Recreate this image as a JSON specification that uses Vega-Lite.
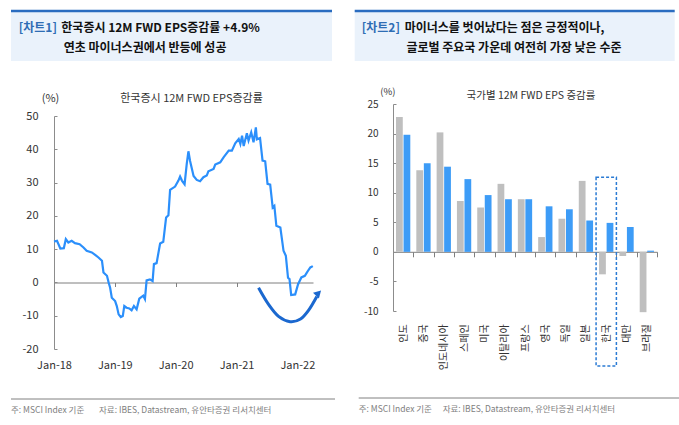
{
  "$schema": "https://vega.github.io/schema/vega-lite/v6.json",
  "background": "white",
  "padding": {"left": 9, "top": 9, "right": 0, "bottom": 0},
  "config": {"font": "Noto Sans CJK KR", "view": {"stroke": null}},
  "spacing": 17,
  "hconcat": [
    {
      "spacing": 31,
      "vconcat": [
        {
          "width": 259, "height": 50,
          "data": {"values": [{"tag": "[차트1]", "line1": "한국증시 12M FWD EPS증감률  +4.9%", "line2": "연초 마이너스권에서 반등에 성공"}]},
          "layer": [
            {"mark": {"type": "rect", "color": "#eaf2fb"},
             "encoding": {"x": {"datum": -43, "type": "quantitative", "scale": {"domain": [0, 259], "nice": false, "zero": false}, "axis": null},
                          "x2": {"datum": 278},
                          "y": {"datum": 0, "type": "quantitative", "scale": {"domain": [0, 50], "reverse": true, "nice": false, "zero": false}, "axis": null},
                          "y2": {"datum": 50}}},
            {"mark": {"type": "rule", "color": "#2a6cc0", "strokeWidth": 2.5},
             "encoding": {"x": {"datum": -43, "type": "quantitative"}, "x2": {"datum": 278}, "y": {"datum": 0, "type": "quantitative"}}},
            {"mark": {"type": "text", "align": "left", "baseline": "middle", "fontSize": 12, "fontWeight": "bold", "color": "#2e6db4"},
             "encoding": {"text": {"field": "tag"}, "x": {"datum": -35.3, "type": "quantitative"}, "y": {"datum": 16.5, "type": "quantitative"}}},
            {"mark": {"type": "text", "align": "left", "baseline": "middle", "fontSize": 12, "fontWeight": "bold", "color": "#111"},
             "encoding": {"text": {"field": "line1"}, "x": {"datum": 7.3, "type": "quantitative"}, "y": {"datum": 16.5, "type": "quantitative"}}},
            {"mark": {"type": "text", "align": "left", "baseline": "middle", "fontSize": 12, "fontWeight": "bold", "color": "#111"},
             "encoding": {"text": {"field": "line2"}, "x": {"datum": 9.7, "type": "quantitative"}, "y": {"datum": 37, "type": "quantitative"}}}
          ]
        },
        {
          "spacing": 27,
          "vconcat": [
            {
              "width": 259, "height": 233,
              "title": {"text": "한국증시 12M FWD EPS증감률", "fontSize": 11, "fontWeight": "normal", "color": "#333", "dx": 8, "offset": -12},
              "layer": [
                {
                  "data": {"values": [
                    {"date": "2018-01-01", "value": 12.3}, {"date": "2018-01-19", "value": 12.5}, {"date": "2018-02-08", "value": 10.2},
                    {"date": "2018-03-01", "value": 10.3}, {"date": "2018-03-13", "value": 13.0}, {"date": "2018-03-28", "value": 12.0},
                    {"date": "2018-04-17", "value": 12.5}, {"date": "2018-05-07", "value": 11.8}, {"date": "2018-06-04", "value": 11.5},
                    {"date": "2018-06-27", "value": 10.5}, {"date": "2018-07-16", "value": 9.5}, {"date": "2018-08-16", "value": 9.0},
                    {"date": "2018-09-05", "value": 8.3}, {"date": "2018-09-25", "value": 7.5}, {"date": "2018-10-16", "value": 6.5},
                    {"date": "2018-10-25", "value": 3.0}, {"date": "2018-11-15", "value": 2.0}, {"date": "2018-11-25", "value": 0.0},
                    {"date": "2018-12-04", "value": -1.6}, {"date": "2018-12-14", "value": -4.6}, {"date": "2019-01-03", "value": -5.6},
                    {"date": "2019-01-13", "value": -7.1}, {"date": "2019-01-24", "value": -9.6}, {"date": "2019-02-06", "value": -10.4},
                    {"date": "2019-02-18", "value": -10.1}, {"date": "2019-02-27", "value": -7.1}, {"date": "2019-03-13", "value": -7.6},
                    {"date": "2019-03-29", "value": -7.8}, {"date": "2019-04-12", "value": -8.4}, {"date": "2019-04-26", "value": -7.1},
                    {"date": "2019-05-12", "value": -8.1}, {"date": "2019-05-28", "value": -4.9}, {"date": "2019-06-21", "value": -4.0},
                    {"date": "2019-07-01", "value": -5.0}, {"date": "2019-07-11", "value": 0.6}, {"date": "2019-07-31", "value": 0.9},
                    {"date": "2019-08-16", "value": 0.4}, {"date": "2019-08-24", "value": 5.5}, {"date": "2019-09-09", "value": 5.8},
                    {"date": "2019-09-30", "value": 11.7}, {"date": "2019-10-19", "value": 12.2}, {"date": "2019-11-05", "value": 19.5},
                    {"date": "2019-11-19", "value": 20.2}, {"date": "2019-11-29", "value": 27.8}, {"date": "2019-12-29", "value": 28.8},
                    {"date": "2020-01-18", "value": 30.6}, {"date": "2020-01-28", "value": 31.8}, {"date": "2020-02-08", "value": 30.6},
                    {"date": "2020-02-24", "value": 29.5}, {"date": "2020-03-08", "value": 35.6}, {"date": "2020-03-18", "value": 39.4},
                    {"date": "2020-03-28", "value": 36.5}, {"date": "2020-04-18", "value": 32.0}, {"date": "2020-05-07", "value": 30.8},
                    {"date": "2020-05-27", "value": 30.4}, {"date": "2020-06-16", "value": 31.6}, {"date": "2020-07-06", "value": 32.1},
                    {"date": "2020-07-16", "value": 33.4}, {"date": "2020-08-16", "value": 34.1}, {"date": "2020-08-26", "value": 35.4},
                    {"date": "2020-09-25", "value": 36.1}, {"date": "2020-10-15", "value": 37.6}, {"date": "2020-11-15", "value": 39.6},
                    {"date": "2020-12-04", "value": 39.6}, {"date": "2020-12-24", "value": 41.8}, {"date": "2021-01-14", "value": 43.1},
                    {"date": "2021-01-24", "value": 41.6}, {"date": "2021-02-03", "value": 44.1}, {"date": "2021-02-13", "value": 41.0},
                    {"date": "2021-03-04", "value": 44.8}, {"date": "2021-03-14", "value": 42.6}, {"date": "2021-03-30", "value": 45.1},
                    {"date": "2021-04-13", "value": 42.1}, {"date": "2021-04-27", "value": 46.6}, {"date": "2021-05-03", "value": 43.0},
                    {"date": "2021-05-22", "value": 43.4}, {"date": "2021-06-06", "value": 36.6}, {"date": "2021-06-22", "value": 36.4},
                    {"date": "2021-07-06", "value": 29.6}, {"date": "2021-07-22", "value": 29.4}, {"date": "2021-08-06", "value": 22.5},
                    {"date": "2021-08-16", "value": 23.0}, {"date": "2021-08-28", "value": 17.0}, {"date": "2021-09-21", "value": 16.5},
                    {"date": "2021-10-10", "value": 9.5}, {"date": "2021-10-24", "value": 8.0}, {"date": "2021-11-06", "value": 1.4},
                    {"date": "2021-11-15", "value": 1.0}, {"date": "2021-11-25", "value": -3.8}, {"date": "2021-12-19", "value": -3.6},
                    {"date": "2022-01-05", "value": -0.6}, {"date": "2022-01-25", "value": 1.5}, {"date": "2022-02-15", "value": 2.0},
                    {"date": "2022-02-28", "value": 3.0}, {"date": "2022-03-10", "value": 3.8}, {"date": "2022-03-20", "value": 4.5},
                    {"date": "2022-04-04", "value": 4.9}
                  ]},
                  "mark": {"type": "line", "color": "#2b8ffb", "strokeWidth": 2.2},
                  "encoding": {
                    "x": {"field": "date", "type": "temporal",
                          "scale": {"domain": [{"year": 2018, "month": 1, "date": 1}, {"year": 2022, "month": 4, "date": 5}]},
                          "axis": {"format": "%b-%y", "tickCount": {"interval": "year", "step": 1}, "grid": false, "offset": -66.5,
                                   "domainColor": "#7f7f7f", "tickColor": "#7f7f7f", "tickSize": 4, "labelPadding": 73,
                                   "labelFontSize": 11, "labelColor": "#333", "title": null, "labelFlush": false, "labelOverlap": false}},
                    "y": {"field": "value", "type": "quantitative", "scale": {"domain": [-20, 50], "nice": false, "zero": false},
                          "axis": {"values": [-20, -10, 0, 10, 20, 30, 40, 50], "tickCount": 20, "grid": false, "domainColor": "#8c8c8c", "tickColor": "#8c8c8c",
                                   "tickSize": -3, "labelPadding": 19, "labelFontSize": 11, "labelColor": "#333", "labelExpr": "'' + datum.value",
                                   "labelOverlap": false,
                                   "title": "(%)", "titleAngle": 0, "titleX": -4, "titleY": -18, "titleAlign": "center", "titleBaseline": "middle",
                                   "titleFontSize": 11, "titleFontWeight": "normal", "titleColor": "#333", "minExtent": 43}}
                  }
                },
                {
                  "data": {"values": [
                    {"date": "2021-05-13", "value": -1.6}, {"date": "2021-07-12", "value": -6.6}, {"date": "2021-09-10", "value": -10.2},
                    {"date": "2021-11-19", "value": -11.8}, {"date": "2022-01-20", "value": -11.0}, {"date": "2022-03-09", "value": -8.4},
                    {"date": "2022-04-28", "value": -4.2}
                  ]},
                  "mark": {"type": "line", "color": "#1b68cf", "strokeWidth": 3, "interpolate": "cardinal"},
                  "encoding": {"x": {"field": "date", "type": "temporal"}, "y": {"field": "value", "type": "quantitative"}}
                },
                {
                  "data": {"values": [{"date": "2022-05-08", "value": -3.2}]},
                  "mark": {"type": "point", "shape": "triangle-up", "filled": true, "color": "#1b68cf", "size": 70, "angle": 45, "opacity": 1},
                  "encoding": {"x": {"field": "date", "type": "temporal"}, "y": {"field": "value", "type": "quantitative"}}
                }
              ]
            },
            {
              "width": 259, "height": 16,
              "data": {"values": [{"note": "주: MSCI Index 기준", "source": "자료: IBES, Datastream, 유안타증권 리서치센터"}]},
              "layer": [
                {"mark": {"type": "rule", "color": "#808080", "strokeWidth": 1},
                 "encoding": {"x": {"datum": -43, "type": "quantitative", "scale": {"domain": [0, 259], "nice": false, "zero": false}, "axis": null},
                              "x2": {"datum": 281},
                              "y": {"datum": 0, "type": "quantitative", "scale": {"domain": [0, 16], "reverse": true, "nice": false}, "axis": null}}},
                {"mark": {"type": "text", "align": "left", "baseline": "middle", "fontSize": 8.5, "color": "#808080", "font": "'Liberation Sans Narrow', 'Noto Sans CJK KR'"},
                 "encoding": {"text": {"field": "note"}, "x": {"datum": -43, "type": "quantitative"}, "y": {"datum": 11, "type": "quantitative"}}},
                {"mark": {"type": "text", "align": "left", "baseline": "middle", "fontSize": 8.5, "color": "#808080", "font": "'Liberation Sans Narrow', 'Noto Sans CJK KR'"},
                 "encoding": {"text": {"field": "source"}, "x": {"datum": 45, "type": "quantitative"}, "y": {"datum": 11, "type": "quantitative"}}}
              ]
            }
          ]
        }
      ]
    },
    {
      "spacing": 25,
      "vconcat": [
        {
          "width": 264, "height": 50,
          "data": {"values": [{"tag": "[차트2]", "line1": "마이너스를 벗어났다는 점은 긍정적이나,", "line2": "글로벌 주요국 가운데 여전히 가장 낮은 수준"}]},
          "layer": [
            {"mark": {"type": "rect", "color": "#eaf2fb"},
             "encoding": {"x": {"datum": -38.3, "type": "quantitative", "scale": {"domain": [0, 264], "nice": false, "zero": false}, "axis": null},
                          "x2": {"datum": 281.7},
                          "y": {"datum": 0, "type": "quantitative", "scale": {"domain": [0, 50], "reverse": true, "nice": false, "zero": false}, "axis": null},
                          "y2": {"datum": 50}}},
            {"mark": {"type": "rule", "color": "#2a6cc0", "strokeWidth": 2.5},
             "encoding": {"x": {"datum": -38.3, "type": "quantitative"}, "x2": {"datum": 281.7}, "y": {"datum": 0, "type": "quantitative"}}},
            {"mark": {"type": "text", "align": "left", "baseline": "middle", "fontSize": 12, "fontWeight": "bold", "color": "#2e6db4"},
             "encoding": {"text": {"field": "tag"}, "x": {"datum": -31.3, "type": "quantitative"}, "y": {"datum": 16.5, "type": "quantitative"}}},
            {"mark": {"type": "text", "align": "left", "baseline": "middle", "fontSize": 12, "fontWeight": "bold", "color": "#111"},
             "encoding": {"text": {"field": "line1"}, "x": {"datum": 11.7, "type": "quantitative"}, "y": {"datum": 16.5, "type": "quantitative"}}},
            {"mark": {"type": "text", "align": "left", "baseline": "middle", "fontSize": 12, "fontWeight": "bold", "color": "#111"},
             "encoding": {"text": {"field": "line2"}, "x": {"datum": 13.4, "type": "quantitative"}, "y": {"datum": 37, "type": "quantitative"}}}
          ]
        },
        {
          "spacing": 27,
          "vconcat": [
            {
              "width": 264, "height": 207,
              "title": {"text": "국가별 12M FWD EPS 증감률", "fontSize": 10.5, "fontWeight": "normal", "color": "#333", "dx": 6, "offset": -15.5},
              "layer": [
                {
                  "data": {"values": [
                    {"country": "인도", "series": "prev", "value": 22.8}, {"country": "인도", "series": "cur", "value": 19.8},
                    {"country": "중국", "series": "prev", "value": 13.8}, {"country": "중국", "series": "cur", "value": 15.0},
                    {"country": "인도네시아", "series": "prev", "value": 20.2}, {"country": "인도네시아", "series": "cur", "value": 14.4},
                    {"country": "스페인", "series": "prev", "value": 8.6}, {"country": "스페인", "series": "cur", "value": 12.3},
                    {"country": "미국", "series": "prev", "value": 7.5}, {"country": "미국", "series": "cur", "value": 9.6},
                    {"country": "이탈리아", "series": "prev", "value": 11.5}, {"country": "이탈리아", "series": "cur", "value": 8.9},
                    {"country": "프랑스", "series": "prev", "value": 8.9}, {"country": "프랑스", "series": "cur", "value": 8.9},
                    {"country": "영국", "series": "prev", "value": 2.5}, {"country": "영국", "series": "cur", "value": 7.7},
                    {"country": "독일", "series": "prev", "value": 5.6}, {"country": "독일", "series": "cur", "value": 7.2},
                    {"country": "일본", "series": "prev", "value": 12.0}, {"country": "일본", "series": "cur", "value": 5.3},
                    {"country": "한국", "series": "prev", "value": -3.8}, {"country": "한국", "series": "cur", "value": 4.9},
                    {"country": "대만", "series": "prev", "value": -0.7}, {"country": "대만", "series": "cur", "value": 4.2},
                    {"country": "브라질", "series": "prev", "value": -10.2}, {"country": "브라질", "series": "cur", "value": 0.2}
                  ]},
                  "mark": {"type": "bar"},
                  "encoding": {
                    "x": {"field": "country", "type": "nominal",
                          "scale": {"domain": ["인도", "중국", "인도네시아", "스페인", "미국", "이탈리아", "프랑스", "영국", "독일", "일본", "한국", "대만", "브라질"], "paddingInner": 0, "paddingOuter": 0},
                          "axis": {"title": null, "labelAngle": -90, "tickBand": "extent", "offset": -59.2, "domainColor": "#7f7f7f", "tickColor": "#7f7f7f",
                                   "tickSize": 5, "labelPadding": 67, "labelFontSize": 10, "labelColor": "#333", "grid": false, "labelOverlap": false}},
                    "xOffset": {"field": "series", "type": "nominal", "scale": {"domain": ["prev", "cur"], "paddingInner": 0.1, "paddingOuter": 0.4}},
                    "y": {"field": "value", "type": "quantitative", "scale": {"domain": [-10, 25], "nice": false, "zero": false},
                          "axis": {"values": [-10, -5, 0, 5, 10, 15, 20, 25], "tickCount": 20, "grid": false, "domainColor": "#8c8c8c", "tickColor": "#8c8c8c",
                                   "tickSize": -3, "labelPadding": 18, "labelFontSize": 10, "labelColor": "#333", "labelExpr": "'' + datum.value",
                                   "labelOverlap": false,
                                   "title": "(%)", "titleAngle": 0, "titleX": -5.6, "titleY": -13, "titleAlign": "center", "titleBaseline": "middle",
                                   "titleFontSize": 9.5, "titleFontWeight": "normal", "titleColor": "#333", "minExtent": 38}},
                    "color": {"field": "series", "type": "nominal", "scale": {"domain": ["prev", "cur"], "range": ["#bfbfbf", "#3d9cf7"]}, "legend": null}
                  }
                },
                {
                  "data": {"values": [{"country": "한국", "top": 12.6, "bottom": -19.3}]},
                  "mark": {"type": "bar", "fill": "white", "fillOpacity": 0, "stroke": "#2b7bd4", "strokeDash": [3, 2], "strokeWidth": 1.5},
                  "encoding": {"x": {"field": "country", "type": "nominal"}, "y": {"field": "top", "type": "quantitative"}, "y2": {"field": "bottom"}}
                }
              ]
            },
            {
              "width": 264, "height": 16,
              "data": {"values": [{"note": "주: MSCI Index 기준", "source": "자료: IBES, Datastream, 유안타증권 리서치센터"}]},
              "layer": [
                {"mark": {"type": "rule", "color": "#808080", "strokeWidth": 1},
                 "encoding": {"x": {"datum": -34.3, "type": "quantitative", "scale": {"domain": [0, 264], "nice": false, "zero": false}, "axis": null},
                              "x2": {"datum": 288.7},
                              "y": {"datum": 0, "type": "quantitative", "scale": {"domain": [0, 16], "reverse": true, "nice": false}, "axis": null}}},
                {"mark": {"type": "text", "align": "left", "baseline": "middle", "fontSize": 8.5, "color": "#808080", "font": "'Liberation Sans Narrow', 'Noto Sans CJK KR'"},
                 "encoding": {"text": {"field": "note"}, "x": {"datum": -34.3, "type": "quantitative"}, "y": {"datum": 11, "type": "quantitative"}}},
                {"mark": {"type": "text", "align": "left", "baseline": "middle", "fontSize": 8.5, "color": "#808080", "font": "'Liberation Sans Narrow', 'Noto Sans CJK KR'"},
                 "encoding": {"text": {"field": "source"}, "x": {"datum": 49.7, "type": "quantitative"}, "y": {"datum": 11, "type": "quantitative"}}}
              ]
            }
          ]
        }
      ]
    }
  ]
}
